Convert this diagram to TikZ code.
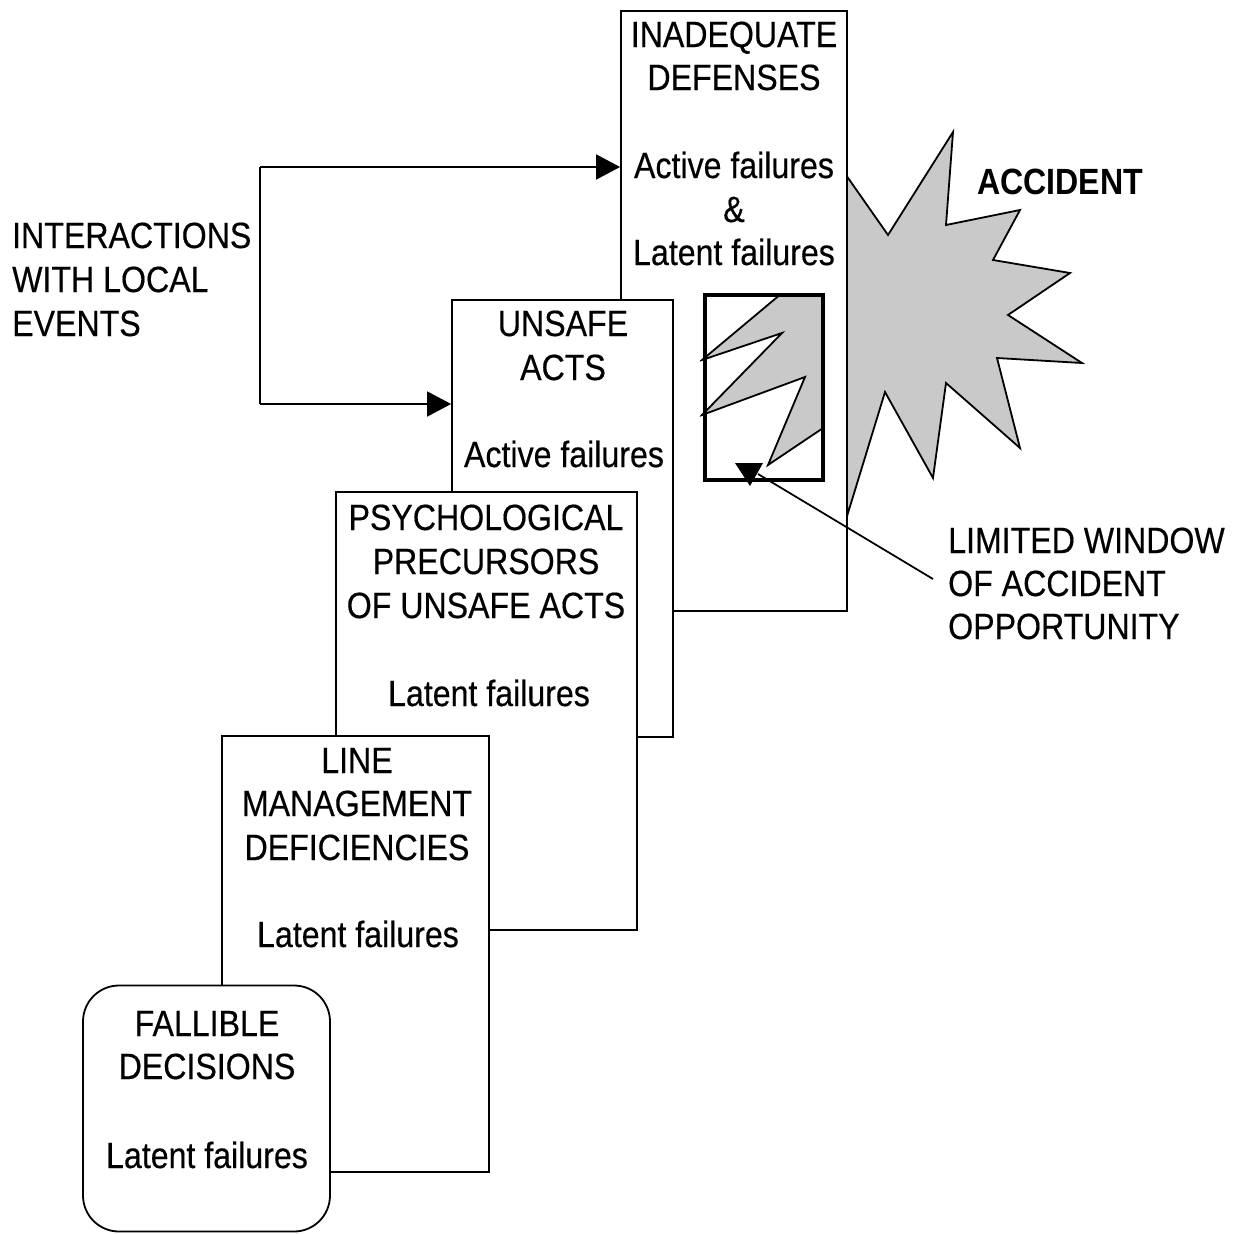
\documentclass[tikz,border=0pt]{standalone}
\usepackage{fontspec}
\setmainfont{Liberation Sans}
\newfontfamily\narrowsans[FakeStretch=0.88,FakeBold=0.4]{Liberation Sans}
\newfontfamily\narrowbold[FakeStretch=0.88]{Liberation Sans Bold}
\usetikzlibrary{arrows.meta}
\begin{document}
\begin{tikzpicture}[x=1pt,y=-1pt,
  stage/.style={draw=black,fill=white,line width=1.8pt,inner sep=0pt},
  txt/.style={font=\narrowsans\fontsize{36.5}{44}\selectfont,inner sep=0pt,anchor=base},
  side/.style={font=\narrowsans\fontsize{36.5}{44}\selectfont,inner sep=0pt,anchor=base west},
  link/.style={line width=1.8pt},
  blast/.style={fill=gray!42,draw=black,line width=1.8pt,line join=miter},
  tip/.style={-{Triangle[length=24pt,width=25pt]}},
]
\useasboundingbox (0,0) rectangle (1237,1234);

% the accident burst, outline
\def\burst{(846,175) -- (888,235) -- (953,132) -- (946,225) -- (1020,210)
  -- (993,260) -- (1070,273) -- (1008,315) -- (1082,363) -- (997,358)
  -- (1020,448) -- (946,383) -- (933,478) -- (885,392) -- (848,513)
  -- (835,420) -- (768,465) -- (805,377) -- (702,415) -- (782,333)
  -- (702,360) -- (800,278) -- cycle}
\path[blast] \burst;

% stage 1: inadequate defenses
\node[stage,minimum width=226pt,minimum height=600pt] (def) at (734,311) {};
\node[txt] (defa) at (734,47) {INADEQUATE};
\node[txt] (defb) at (734,90) {DEFENSES};
\node[txt] (defc) at (734,178) {Active failures};
\node[txt] (defd) at (734,222) {\&};
\node[txt] (defe) at (734,265) {Latent failures};

% window of opportunity showing the burst
\node[inner sep=0pt,minimum width=118pt,minimum height=185pt] (win) at (764,387.5) {};
\begin{scope}
  \clip ([xshift=-5pt]win.south west) rectangle (win.north east);
  \path[blast] \burst;
\end{scope}
\draw[line width=4.5pt] (win.south west) rectangle (win.north east);

% stage 2: unsafe acts
\node[stage,minimum width=221pt,minimum height=437pt] (ua) at (562.5,518.5) {};
\node[txt] (uaa) at (563,336) {UNSAFE};
\node[txt] (uab) at (563,380) {ACTS};
\node[txt] (uac) at (564,467) {Active failures};

% stage 3: psychological precursors
\node[stage,minimum width=301pt,minimum height=438pt] (pp) at (486.5,711) {};
\node[txt] (ppa) at (486,530) {PSYCHOLOGICAL};
\node[txt] (ppb) at (486,574) {PRECURSORS};
\node[txt] (ppc) at (486,618) {OF UNSAFE ACTS};
\node[txt] (ppd) at (489,706) {Latent failures};

% stage 4: line management
\node[stage,minimum width=267pt,minimum height=436pt] (lm) at (355.5,954) {};
\node[txt] (lma) at (357,773) {LINE};
\node[txt] (lmb) at (357,816) {MANAGEMENT};
\node[txt] (lmc) at (357,860) {DEFICIENCIES};
\node[txt] (lmd) at (358,947) {Latent failures};

% stage 5: fallible decisions
\node[stage,rounded corners=36pt,minimum width=247pt,minimum height=246pt] (fd) at (206.5,1108.5) {};
\node[txt] (fda) at (207,1036) {FALLIBLE};
\node[txt] (fdb) at (207,1079) {DECISIONS};
\node[txt] (fdc) at (207,1168) {Latent failures};

% local events feeding the active-failure stages
\node[side] (ia) at (12,248) {INTERACTIONS};
\node[side] (ib) at (12,292) {WITH LOCAL};
\node[side] (ic) at (12,336) {EVENTS};
\coordinate (jt) at (260,167);
\coordinate (jb) at (260,404);
\draw[link,tip] (jt) -- (jt -| def.west);
\draw[link,tip] (jb) -- (jb -| ua.west);
\draw[link] (jt) -- (jb);

% accident label
\node[side,font=\narrowbold\fontsize{36.5}{44}\selectfont] (acc) at (977,194) {ACCIDENT};

% limited window label and pointer
\node[side] (lwa) at (948,553) {LIMITED WINDOW};
\node[side] (lwb) at (948,596) {OF ACCIDENT};
\node[side] (lwc) at (948,639) {OPPORTUNITY};
\coordinate (lwfrom) at (933,579);
\coordinate (lwto) at (758,474);
\draw[link] (lwfrom) -- (lwto);
\fill (735,463) -- (763,463) -- (750,486) -- cycle;
\end{tikzpicture}
\end{document}
